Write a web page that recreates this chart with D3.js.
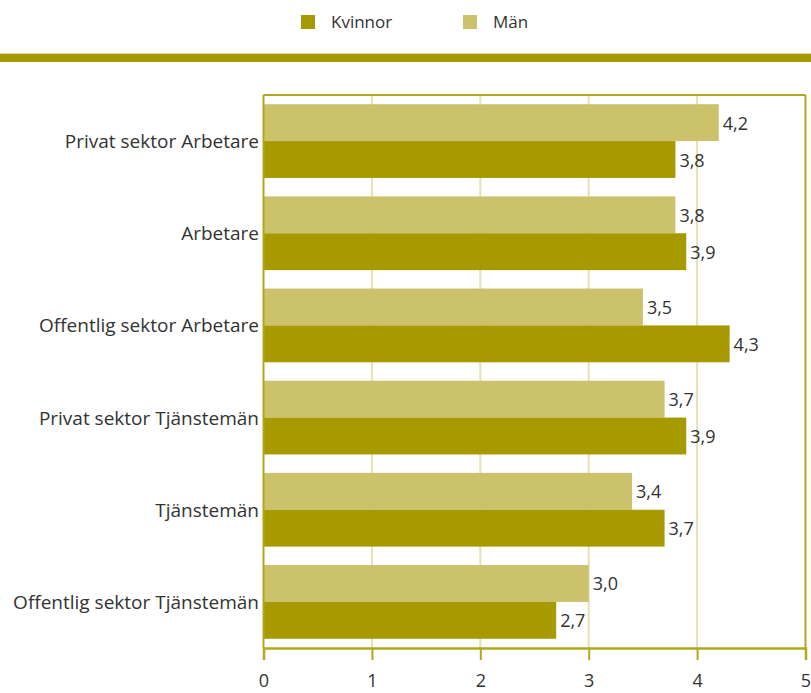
<!DOCTYPE html>
<html><head><meta charset="utf-8">
<script src="https://cdn.jsdelivr.net/npm/d3@7"></script>
<style>
body{margin:0;background:#fff;}
text{font-family:"Open Sans","Noto Sans",sans-serif;fill:#333;}
</style></head>
<body><svg id="c" width="811" height="693"></svg>
<script>
const categories = ["Privat sektor Arbetare","Arbetare","Offentlig sektor Arbetare","Privat sektor Tjänstemän","Tjänstemän","Offentlig sektor Tjänstemän"];
const man = [4.2,3.8,3.5,3.7,3.4,3.0];
const kvinnor = [3.8,3.9,4.3,3.9,3.7,2.7];
const seriesNames = ["Kvinnor","Män"];
const ticks = [0,1,2,3,4,5];
const colK = "#a69a00", colM = "#cbc26b", frame = "#b3a71c", grid = "#e6e0b4";

const svg = d3.select("#c");
const L=263.5, R=805.5, T=95, B=648;
const x = d3.scaleLinear().domain([0,5]).range([L,R]);
const y = d3.scaleBand().domain(categories).range([T,B]).paddingInner(0.2).paddingOuter(0.1);
const sub = d3.scaleBand().domain(["Män","Kvinnor"]).range([0,y.bandwidth()]);
const fmt = v => d3.format(".1f")(v).replace(".",",");

// legend
const leg = svg.append("g");
[[seriesNames[0],colK,301],[seriesNames[1],colM,463]].forEach(([n,c,lx])=>{
  leg.append("rect").attr("x",lx).attr("y",15).attr("width",14).attr("height",14).attr("fill",c);
  leg.append("text").attr("x",lx+30).attr("y",28).attr("font-size",17).text(n);
});
svg.append("rect").attr("x",0).attr("y",53).attr("width",811).attr("height",1.5).attr("fill","#e0d9a0");
svg.append("rect").attr("x",0).attr("y",54).attr("width",811).attr("height",8).attr("fill","#a69a00");

// gridlines
svg.append("g").selectAll("line").data(ticks.filter(t=>t>0&&t<5)).join("line")
  .attr("x1",d=>x(d)).attr("x2",d=>x(d)).attr("y1",T).attr("y2",B)
  .attr("stroke",grid).attr("stroke-width",2);

// bars
const g = svg.append("g");
categories.forEach((c,i)=>{
  g.append("rect").attr("x",x(0)).attr("y",y(c)+sub("Män")).attr("width",x(man[i])-x(0)).attr("height",sub.bandwidth()).attr("fill",colM);
  g.append("rect").attr("x",x(0)).attr("y",y(c)+sub("Kvinnor")).attr("width",x(kvinnor[i])-x(0)).attr("height",sub.bandwidth()).attr("fill",colK);
  g.append("text").attr("x",x(man[i])+4).attr("y",y(c)+sub("Män")+sub.bandwidth()/2+7).attr("font-size",18).text(fmt(man[i]));
  g.append("text").attr("x",x(kvinnor[i])+4).attr("y",y(c)+sub("Kvinnor")+sub.bandwidth()/2+7).attr("font-size",18).text(fmt(kvinnor[i]));
  g.append("text").attr("x",259).attr("y",y(c)+y.bandwidth()/2+7).attr("text-anchor","end").attr("font-size",19).text(c);
});

// frame
svg.append("line").attr("x1",L).attr("x2",R).attr("y1",T).attr("y2",T).attr("stroke",frame).attr("stroke-width",2);
svg.append("line").attr("x1",R).attr("x2",R).attr("y1",T).attr("y2",B).attr("stroke",frame).attr("stroke-width",2);
svg.append("line").attr("x1",L).attr("x2",L).attr("y1",T).attr("y2",B).attr("stroke",frame).attr("stroke-width",2);

// x axis
const ax = svg.append("g").attr("transform",`translate(0,${B})`)
  .call(d3.axisBottom(x).tickValues(ticks).tickSize(12).tickPadding(14).tickFormat(d3.format("d")));
ax.select(".domain").attr("stroke",frame).attr("stroke-width",2.5);
ax.selectAll(".tick line").attr("stroke",frame).attr("stroke-width",2);
ax.selectAll(".tick text").attr("font-size",18).attr("fill","#333").attr("font-family","\"Open Sans\",sans-serif");
</script></body></html>
